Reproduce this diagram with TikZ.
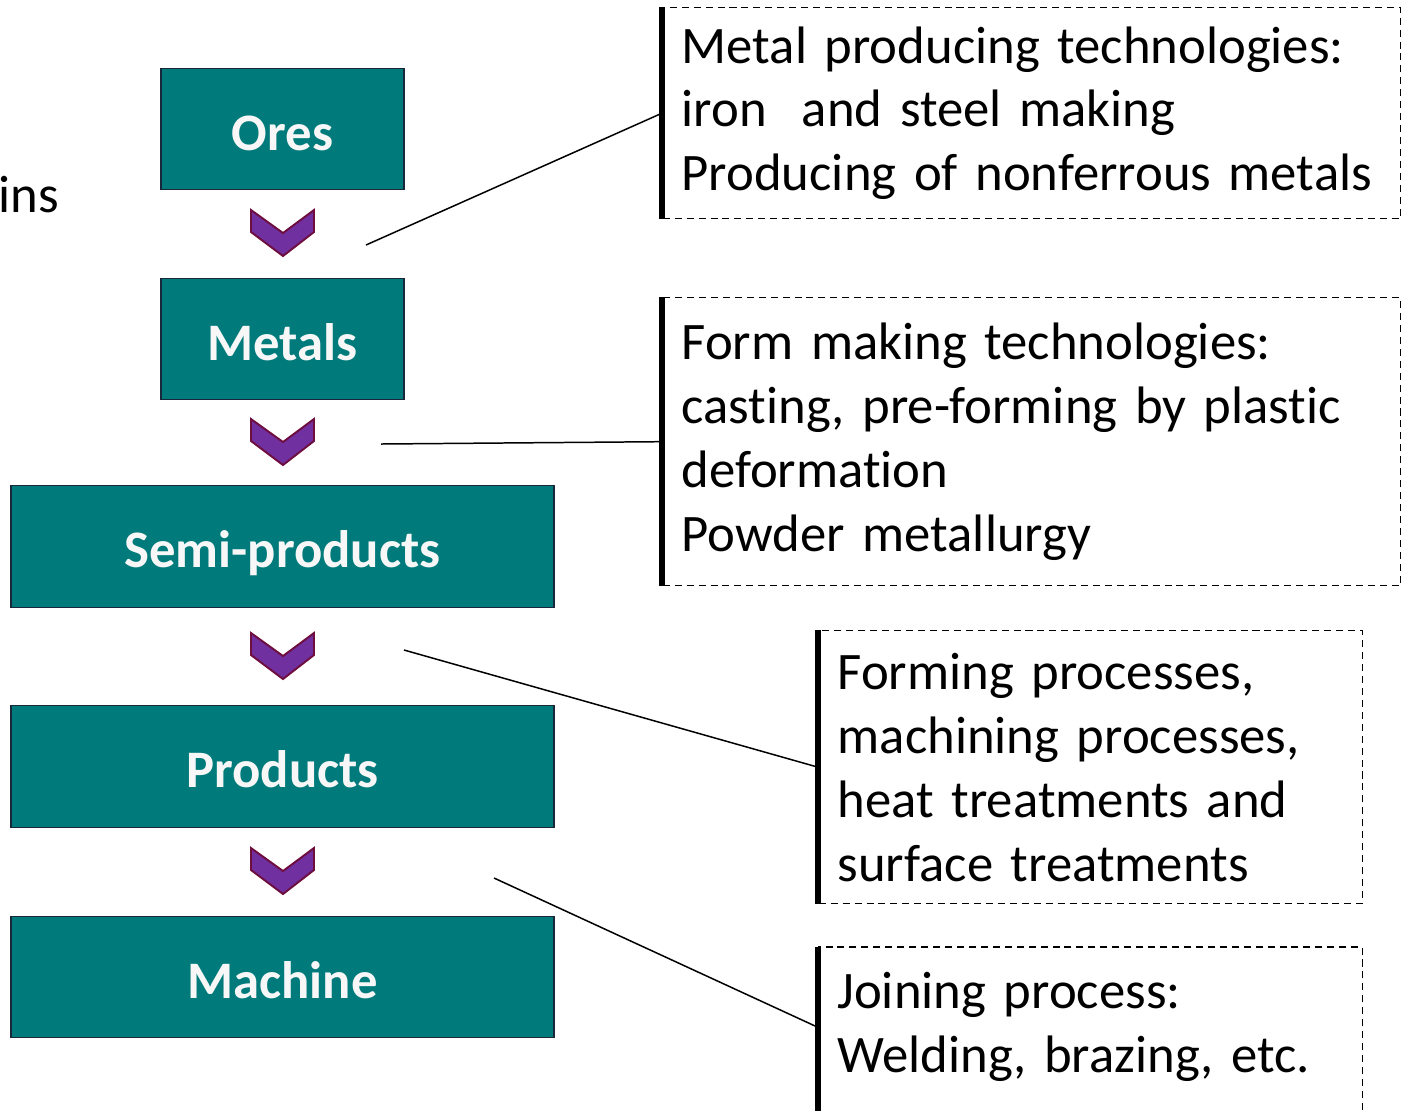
\documentclass[tikz,border=0pt]{standalone}
\usepackage{fontspec}
\setmainfont[RawFeature={-liga;-clig}]{Carlito}
\usepackage{tikz}
\usepackage{xcolor}
\definecolor{stageteal}{RGB}{0,122,122}
\definecolor{stageedge}{RGB}{24,40,58}
\definecolor{chevpurple}{RGB}{112,48,160}
\definecolor{chevedge}{RGB}{110,14,62}

% Schrift der Technologie-Kästen
\newcommand\notefont{\fontsize{30}{36.4}\selectfont}

\tikzset{
  stage/.style={draw=stageedge, line width=0.8pt, fill=stageteal, text=white!97!black,
                font=\fontsize{30}{36}\selectfont\bfseries, minimum height=2.43cm,
                text height=0.84cm, text depth=0cm, inner sep=0pt},
  chevron/.style={fill=chevpurple, draw=chevedge, line width=1.1pt, line join=miter},
  note/.style={anchor=north west, align=left, inner xsep=0.38cm, inner ysep=0pt,
               font=\notefont},
  notebox/.style={draw, dash pattern=on 4pt off 2.8pt, line width=0.8pt},
  leftbar/.style={line width=3.2pt},
  link/.style={line width=0.85pt}
}

\begin{document}
\begin{tikzpicture}[x=0.02cm, y=-0.02cm]
\useasboundingbox (0,0) rectangle (1402,1110);

% ── Prozesskette ─────────────────────────────────────────────────────
\node[stage, minimum width=4.86cm]  (ores)     at (282.5,129)   {Ores};
\node[stage, minimum width=4.86cm]  (metals)   at (282.5,339)   {Metals};
\node[stage, minimum width=10.86cm] (semi)     at (282.5,546.5) {Semi-products};
\node[stage, minimum width=10.86cm] (products) at (282.5,766.5) {Products};
\node[stage, minimum width=10.86cm] (machine)  at (282.5,977)   {Machine};

% ── Winkelpfeile zwischen den Stufen ─────────────────────────────────
\foreach \y in {210,419,633,848}
  \draw[chevron] (251,\y) -- ++(32,23) -- ++(31,-23) -- ++(0,22)
                 -- ++(-31,24) -- ++(-32,-24) -- cycle;

% ── Textrest am linken Rand ──────────────────────────────────────────
\node[font=\fontsize{30}{36}\selectfont, anchor=base west, inner sep=0pt]
  (rest) at (-2,212) {ins};

% ── Technologie-Kästen ───────────────────────────────────────────────
\node[note, notebox, text width=14cm, minimum height=4.22cm] (tech1) at (662,7)
  {Metal producing technologies:\\ iron\ \ and steel making\\ Producing of nonferrous metals};
\node[note, notebox, text width=14cm, minimum height=5.76cm] (tech2) at (662,297)
  {Form making technologies:\\ casting, pre-forming by plastic\\ deformation\\ Powder metallurgy};
\node[note, notebox, text width=10.12cm, minimum height=5.46cm] (tech3) at (818,630)
  {Forming processes,\\ machining processes,\\ heat treatments and\\ surface treatments};
% unten offen -- läuft über den Rand hinaus
\node[note, text width=10.12cm, minimum height=3.2cm] (tech4) at (818,947)
  {Joining process:\\ Welding, brazing, etc.};
\draw[notebox] ([yshift=-1cm]tech4.south east) |- (tech4.north west);

% dicke linke Kante
\foreach \n in {tech1,tech2,tech3}
  \draw[leftbar] (\n.north west) -- (\n.south west);
\draw[leftbar] (tech4.north west) -- ([yshift=-1cm]tech4.south west);

% ── Zuordnungslinien ─────────────────────────────────────────────────
\coordinate (p1) at (366,245);
\coordinate (p2) at (381,444);
\coordinate (p3) at (404,650);
\coordinate (p4) at (494,878);
\draw[link] (p1) -- (tech1.west);
\draw[link] (p2) -- (tech2.west);
\draw[link] (p3) -- (tech3.west);
\draw[link] (p4) -- (tech4.west);

\end{tikzpicture}
\end{document}
